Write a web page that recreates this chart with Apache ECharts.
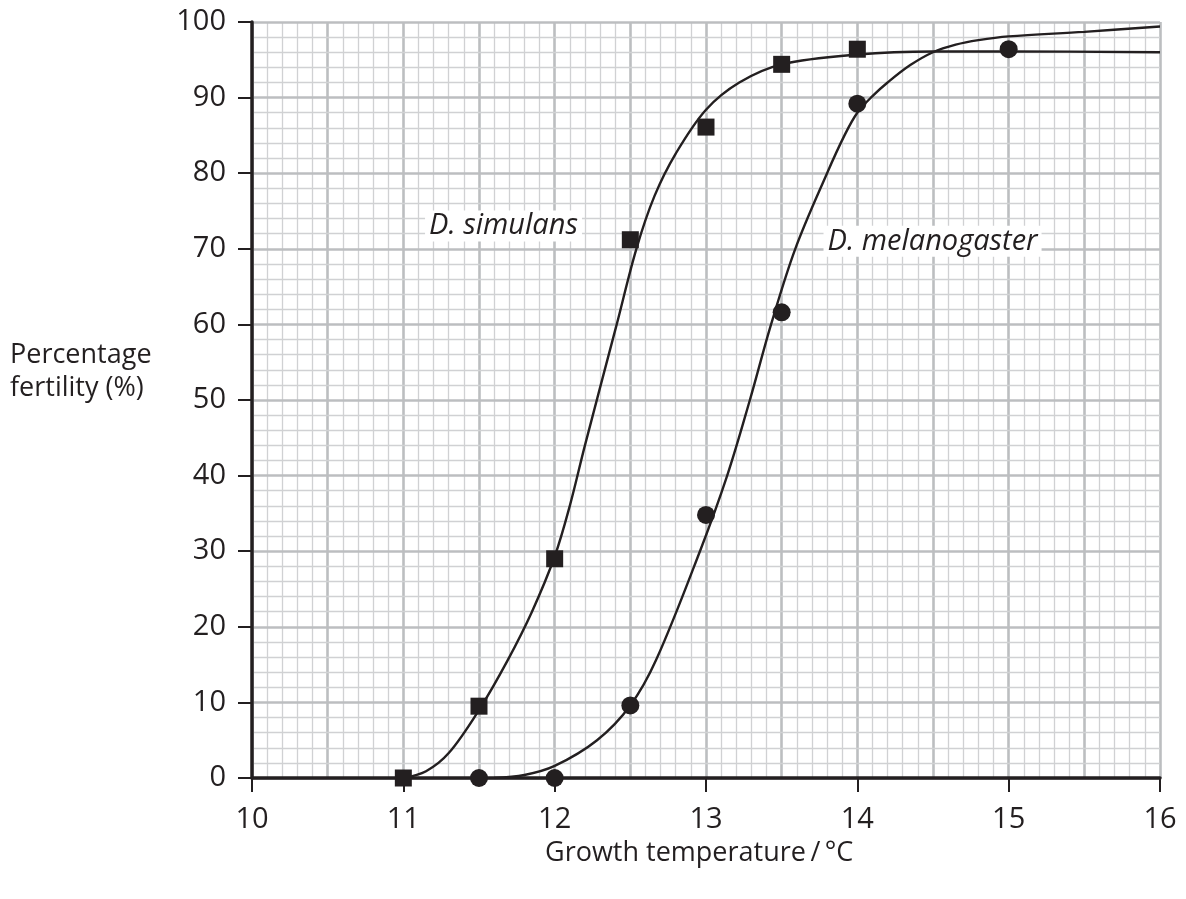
<!DOCTYPE html>
<html>
<head>
<meta charset="utf-8">
<script src="https://cdn.jsdelivr.net/npm/echarts@6/dist/echarts.min.js"></script>
<style>
html,body{margin:0;padding:0;background:#fff;}
#chart{width:1186px;height:899px;}
</style>
</head>
<body>
<div id="chart"></div>
<script>
// ---- data ----
const xTicks = [10, 11, 12, 13, 14, 15, 16];
const yTicks = [0, 10, 20, 30, 40, 50, 60, 70, 80, 90, 100];

const simulansPoints = [[11, 0], [11.5, 9.5], [12, 29], [12.5, 71.2], [13, 86.1], [13.5, 94.4], [14, 96.4]];
const melanogasterPoints = [[11.5, 0], [12, 0], [12.5, 9.6], [13, 34.8], [13.5, 61.6], [14, 89.2], [15, 96.4]];

const simulansCurve = [
  [11.0, 0], [11.15, 0.9], [11.3, 3.3], [11.5, 9.0], [11.69, 15.6], [11.85, 22], [12.0, 29.3],
  [12.1, 36], [12.2, 44], [12.41, 60], [12.54, 70], [12.66, 77], [12.8, 82.6],
  [13.0, 88.4], [13.22, 92.0], [13.5, 94.4], [14.0, 95.7], [14.5, 96.1], [15.0, 96.1], [16.0, 96.0]
];
const melanogasterCurve = [
  [11.6, 0], [11.8, 0.4], [12.0, 1.6], [12.28, 5.0], [12.5, 9.6], [12.67, 15.6],
  [12.96, 30], [13.14, 40], [13.29, 50], [13.43, 60], [13.59, 70], [13.80, 80], [13.92, 85.2],
  [14.0, 88.0], [14.1, 90.2], [14.2, 92.0], [14.35, 94.3], [14.5, 96.0], [14.65, 97.0], [14.8, 97.6],
  [15.0, 98.1], [15.5, 98.7], [16.0, 99.4]
];

const seriesNames = ['D. simulans', 'D. melanogaster'];
const labelCoords = [[11.662, 73.0], [14.497, 71.0]];
const yAxisName = 'Percentage\nfertility (%)';
const xAxisName = 'Growth temperature\u2009/\u2009°C';

// ---- chart ----
const INK = '#231f20';
const FONT = '"Open Sans", "DejaVu Sans", sans-serif';
const chart = echarts.init(document.getElementById('chart'), null, {renderer: 'canvas'});

const majorGrid = {show: true, lineStyle: {color: '#bcbec0', width: 2.6}};
const minorGrid = {show: true, lineStyle: {color: '#d0d1d3', width: 1.3}};

function curveLabel(i) {
  return {
    symbol: 'rect', symbolSize: 0,
    data: [{coord: labelCoords[i]}],
    label: {
      show: true, position: 'inside', formatter: seriesNames[i],
      fontFamily: FONT, fontStyle: 'italic', fontSize: 29, color: INK,
      backgroundColor: '#ffffff', padding: [1, 4, 1, 4]
    }
  };
}

chart.setOption({
  animation: false,
  backgroundColor: '#ffffff',
  grid: {left: 252, right: 26, top: 22, bottom: 121, containLabel: false},
  xAxis: [
    {
      type: 'value', min: xTicks[0], max: xTicks[xTicks.length - 1], interval: 1,
      position: 'bottom', z: 5,
      axisLine: {show: true, onZero: false, lineStyle: {color: INK, width: 3.5}},
      axisTick: {show: true, length: 14, lineStyle: {color: INK, width: 2}},
      axisLabel: {margin: 27, fontFamily: FONT, fontSize: 29, color: INK},
      splitLine: {show: false}
    },
    {
      type: 'value', min: xTicks[0], max: xTicks[xTicks.length - 1], interval: 0.5,
      position: 'top', z: 0,
      axisLine: {show: false}, axisTick: {show: false}, axisLabel: {show: false},
      minorTick: {show: false, splitNumber: 5},
      splitLine: majorGrid, minorSplitLine: minorGrid
    }
  ],
  yAxis: {
    type: 'value', min: yTicks[0], max: yTicks[yTicks.length - 1], interval: 10, z: 5,
    axisLine: {show: true, onZero: false, lineStyle: {color: INK, width: 3.5}},
    axisTick: {show: true, length: 14, lineStyle: {color: INK, width: 2}},
    axisLabel: {margin: 26, fontFamily: FONT, fontSize: 29, color: INK},
    minorTick: {show: false, splitNumber: 5},
    splitLine: majorGrid, minorSplitLine: minorGrid
  },
  series: [
    {
      name: seriesNames[0] + ' curve', type: 'line', data: simulansCurve, xAxisIndex: 0,
      smooth: 0.35, showSymbol: false, symbol: 'none', z: 6,
      lineStyle: {color: INK, width: 2.4},
      markPoint: curveLabel(0)
    },
    {
      name: seriesNames[1] + ' curve', type: 'line', data: melanogasterCurve, xAxisIndex: 0,
      smooth: 0.35, showSymbol: false, symbol: 'none', z: 6,
      lineStyle: {color: INK, width: 2.4},
      markPoint: curveLabel(1)
    },
    {
      name: seriesNames[0], type: 'scatter', data: simulansPoints, xAxisIndex: 0,
      symbol: 'rect', symbolSize: 17, z: 7, itemStyle: {color: INK, opacity: 1}
    },
    {
      name: seriesNames[1], type: 'scatter', data: melanogasterPoints, xAxisIndex: 0,
      symbol: 'circle', symbolSize: 18, z: 7, itemStyle: {color: INK, opacity: 1}
    }
  ],
  graphic: [
    {
      type: 'text', left: 10, top: 339,
      style: {text: yAxisName, font: '27px ' + FONT, fill: INK, lineHeight: 33, align: 'left'}
    },
    {
      type: 'text', left: 545, top: 840,
      style: {text: xAxisName, font: '27px ' + FONT, fill: INK}
    }
  ]
});
</script>
</body>
</html>
